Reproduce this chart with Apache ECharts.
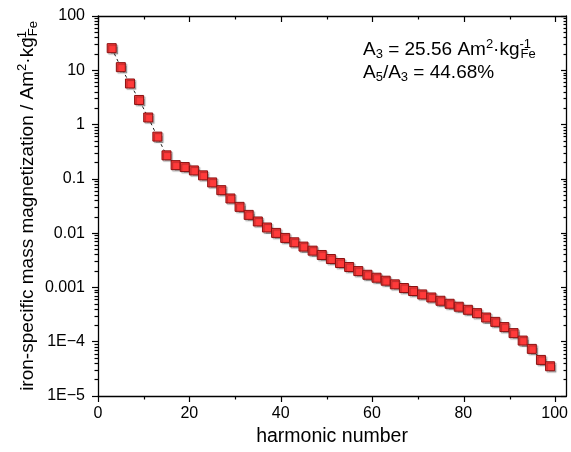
<!DOCTYPE html>
<html>
<head>
<meta charset="utf-8">
<script src="https://cdn.jsdelivr.net/npm/echarts@6/dist/echarts.min.js"></script>
<style>
html,body{margin:0;padding:0;background:#fff;}
#c{width:571px;height:452px;}
</style>
</head>
<body>
<div id="c"></div>
<script>
var harmonics = [3,5,7,9,11,13,15,17,19,21,23,25,27,29,31,33,35,37,39,41,43,45,47,49,51,53,55,57,59,61,63,65,67,69,71,73,75,77,79,81,83,85,87,89,91,93,95,97,99];
var magnetization = [25.56,11.42,5.71,2.84,1.35,0.60,0.271,0.179,0.165,0.143,0.116,0.0859,0.0619,0.0435,0.0305,0.0217,0.0164,0.0127,0.0101,0.00816,0.00678,0.00565,0.00476,0.00396,0.00334,0.00282,0.00238,0.00200,0.00171,0.00151,0.00133,0.00114,0.000975,0.000859,0.000743,0.000653,0.000568,0.000500,0.000441,0.000387,0.000336,0.000279,0.000232,0.000186,0.000144,0.000105,0.0000738,0.0000462,0.0000353];
var xTicks = [0,20,40,60,80,100];
var xMinorTicks = [10,30,50,70,90];
var yTickLabels = {'100':'100','10':'10','1':'1','0.1':'0.1','0.01':'0.01','0.001':'0.001','0.0001':'1E\u22124','0.00001':'1E\u22125'};

var data = harmonics.map(function(h,i){return [h, magnetization[i]];});
var FONT = '"Liberation Sans", Arial, sans-serif';
var TICKCOL = '#000';

// tick positions in log10 space for the tick-only overlay axes
var yMajorPos = [-5,-4,-3,-2,-1,0,1,2];
var yMinorPos = [];
for (var n = -5; n < 2; n++) for (var k = 2; k <= 9; k++) yMinorPos.push(n + Math.log10(k));

function yFmt(v){
  var k = String(Number(Number(v).toPrecision(6)));
  if (k === '1e-5') k = '0.00001';
  if (k === '1e-4') k = '0.0001';
  return yTickLabels[k] !== undefined ? yTickLabels[k] : '';
}

var GRID = {left:98, right:4, top:16, bottom:56, containLabel:false};
function aLine(){ return {show:true, onZero:false, lineStyle:{color:'#000', width:1.3}}; }
function noLine(){ return {show:false, onZero:false}; }
function ticks(vals, inside, len){ return {show:true, inside:inside, length:len, customValues:vals, lineStyle:{color:TICKCOL, width:1.2}}; }
function xOverlay(grid, pos, vals, inside, len){
  return {gridIndex:grid, type:'value', min:0, max:102.5, position:pos,
    axisLine:noLine(), axisTick:ticks(vals, inside, len), splitLine:{show:false}, axisLabel:{show:false}};
}
function yOverlay(grid, pos, vals, inside, len){
  return {gridIndex:grid, type:'value', min:-5, max:2, position:pos,
    axisLine:noLine(), axisTick:ticks(vals, inside, len), splitLine:{show:false}, axisLabel:{show:false}};
}
var subRich = {
  sub:{fontFamily:FONT, fontSize:13, verticalAlign:'bottom', lineHeight:18, color:'#000'},
  sup:{fontFamily:FONT, fontSize:13, verticalAlign:'top', lineHeight:18, color:'#000'},
  supn:{fontFamily:FONT, fontSize:13, verticalAlign:'top', lineHeight:18, color:'#000', width:1}
};

var chart = echarts.init(document.getElementById('c'), null, {renderer:'canvas'});
chart.setOption({
  animation:false,
  backgroundColor:'#fff',
  textStyle:{fontFamily:FONT},
  grid:[GRID, GRID, GRID],
  title:{
    left:363, top:38, padding:0,
    text:'A{sub|3} = 25.56 Am{sup|2}\u00b7kg{supn|-1}{sub|Fe}\nA{sub|5}/A{sub|3} = 44.68%',
    textStyle:{fontFamily:FONT, fontSize:19, fontWeight:'normal', color:'#000', lineHeight:23, rich:subRich}
  },
  xAxis:[{
    gridIndex:0, type:'value', min:0, max:102.5, position:'bottom',
    name:'harmonic number', nameLocation:'middle', nameGap:31, nameMoveOverlap:false,
    nameTextStyle:{fontFamily:FONT, fontSize:19.5, color:'#000'},
    axisLine:aLine(), axisTick:{show:false},
    splitLine:{show:false},
    axisLabel:{show:true, customValues:xTicks, color:'#000', fontFamily:FONT, fontSize:16, margin:10}
  },{
    gridIndex:0, type:'value', min:0, max:102.5, position:'top',
    axisLine:aLine(), axisTick:{show:false},
    splitLine:{show:false}, axisLabel:{show:false}
  },
    xOverlay(1, 'bottom', xTicks, false, 6),
    xOverlay(1, 'top', xTicks, true, 6),
    xOverlay(2, 'bottom', xMinorTicks, false, 3.5),
    xOverlay(2, 'top', xMinorTicks, true, 3.5)
  ],
  yAxis:[{
    gridIndex:0, type:'log', logBase:10, min:0.00001, max:100, position:'left',
    name:'iron-specific mass magnetization / Am{sup|2}\u00b7kg{supn|-1}{sub|Fe}',
    nameLocation:'middle', nameGap:58, nameRotate:90, nameMoveOverlap:false,
    nameTextStyle:{fontFamily:FONT, fontSize:19, color:'#000', lineHeight:24, rich:subRich},
    axisLine:aLine(), axisTick:{show:false},
    splitLine:{show:false}, minorSplitLine:{show:false},
    axisLabel:{show:true, color:'#000', fontFamily:FONT, fontSize:16, margin:13, formatter:yFmt}
  },{
    gridIndex:0, type:'log', logBase:10, min:0.00001, max:100, position:'right',
    axisLine:aLine(), axisTick:{show:false},
    splitLine:{show:false}, axisLabel:{show:false}
  },
    yOverlay(1, 'left', yMajorPos, false, 6),
    yOverlay(1, 'right', yMajorPos, true, 6),
    yOverlay(2, 'left', yMinorPos, false, 3.5),
    yOverlay(2, 'right', yMinorPos, true, 3.5)
  ],
  series:[{
    type:'line', xAxisIndex:0, yAxisIndex:0, data:data,
    symbol:'rect', symbolSize:9,
    lineStyle:{color:'#222', width:1, type:[3,3]},
    itemStyle:{color:'#ff3a3a', borderColor:'#8a1010', borderWidth:1,
      shadowColor:'rgba(0,0,0,0.3)', shadowBlur:1, shadowOffsetX:1.5, shadowOffsetY:1.5},
    emphasis:{disabled:true}, z:3
  },{
    type:'line', xAxisIndex:2, yAxisIndex:2, data:[], silent:true
  },{
    type:'line', xAxisIndex:4, yAxisIndex:4, data:[], silent:true
  }]
});
</script>
</body>
</html>
